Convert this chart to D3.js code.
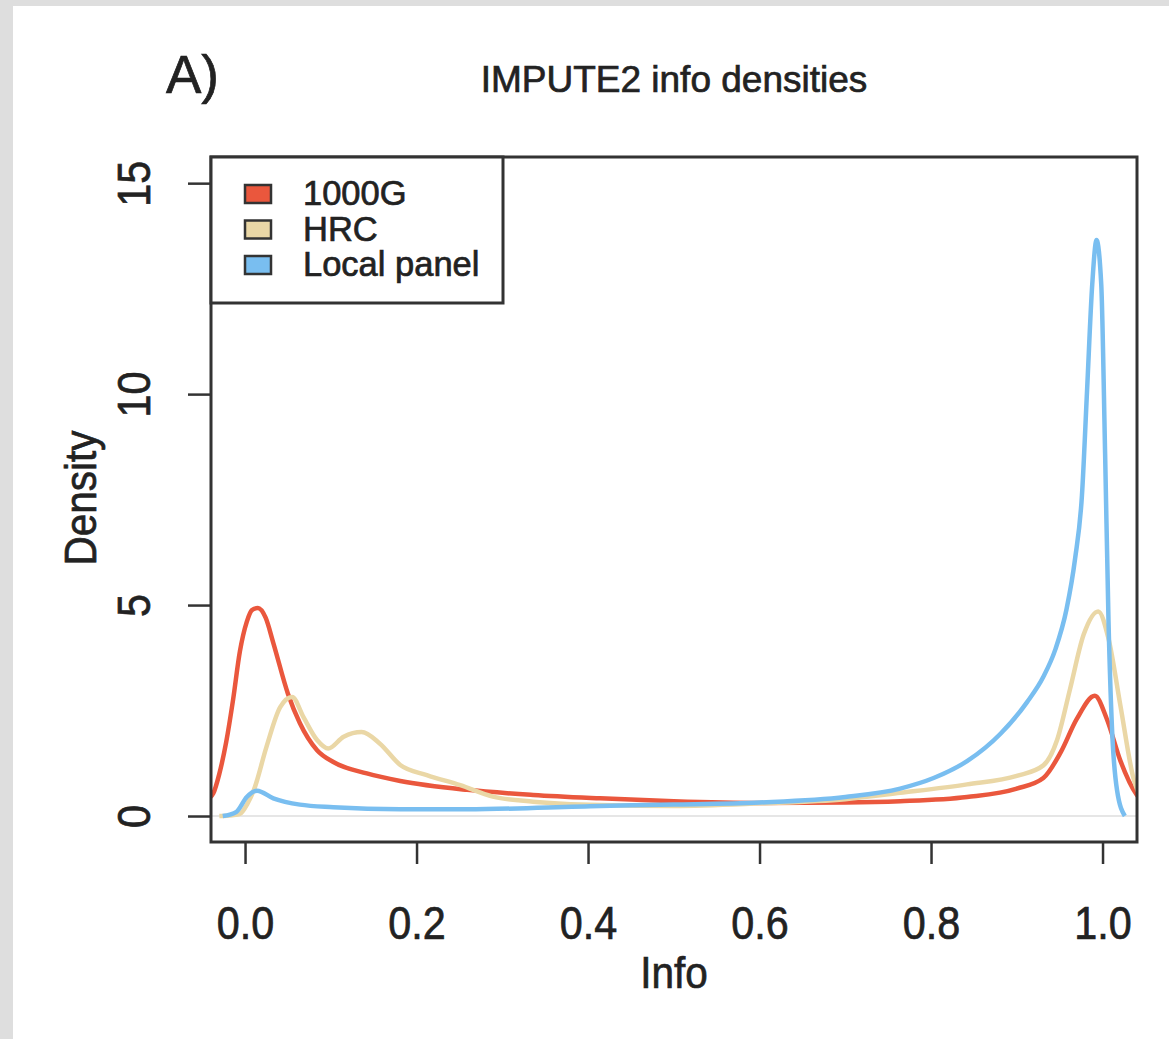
<!DOCTYPE html>
<html>
<head>
<meta charset="utf-8">
<script src="https://cdn.jsdelivr.net/npm/d3@7"></script>
<style>
  body { margin: 0; background: #dedede; }
  svg { display: block; font-family: "Liberation Sans", Arial, sans-serif; }
  svg text { stroke: #222; stroke-width: 0.7px; }
</style>
</head>
<body>
<svg id="chart" width="1169" height="1039"></svg>
<script>
// values (info score, density)
const seriesNames = ['1000G', 'HRC', 'Local panel'];
const seriesColors = ['#ea573d', '#ead7a6', '#79bef0'];

const info1000G = [-0.045, -0.037, -0.030, -0.022, -0.014, -0.006, 0.002, 0.008, 0.015, 0.024, 0.033, 0.050, 0.064, 0.084, 0.103, 0.142, 0.181, 0.259, 0.336, 0.414, 0.5, 0.6, 0.7, 0.764, 0.842, 0.900, 0.931, 0.951, 0.970, 0.991, 1.005, 1.021, 1.040, 1.05];
const dens1000G = [0.38, 0.54, 1.0, 1.75, 2.75, 3.9, 4.6, 4.88, 4.93, 4.7, 4.1, 2.9, 2.2, 1.56, 1.28, 1.01, 0.83, 0.62, 0.50, 0.42, 0.35, 0.31, 0.32, 0.35, 0.45, 0.65, 0.9, 1.5, 2.3, 2.85, 2.3, 1.3, 0.5, 0.3];

const infoHRC = [-0.03, -0.015, -0.006, 0.003, 0.010, 0.025, 0.041, 0.055, 0.068, 0.084, 0.097, 0.115, 0.136, 0.157, 0.181, 0.212, 0.251, 0.289, 0.336, 0.414, 0.5, 0.6, 0.7, 0.764, 0.842, 0.900, 0.931, 0.947, 0.962, 0.978, 0.995, 1.007, 1.021, 1.036, 1.045];
const densHRC = [0, 0.02, 0.05, 0.3, 0.6, 1.64, 2.58, 2.82, 2.35, 1.8, 1.6, 1.88, 1.99, 1.72, 1.21, 0.97, 0.73, 0.46, 0.34, 0.26, 0.24, 0.3, 0.4, 0.55, 0.75, 0.95, 1.2, 1.8, 3.0, 4.3, 4.85, 4.2, 2.6, 0.9, 0.4];

const infoLocal = [-0.026, -0.01, 0.002, 0.014, 0.033, 0.064, 0.103, 0.181, 0.259, 0.414, 0.5, 0.6, 0.7, 0.764, 0.803, 0.842, 0.881, 0.912, 0.931, 0.945, 0.958, 0.968, 0.976, 0.982, 0.988, 0.993, 0.9985, 1.003, 1.007, 1.011, 1.017, 1.026];
const densLocal = [0, 0.1, 0.45, 0.6, 0.42, 0.27, 0.21, 0.16, 0.16, 0.24, 0.27, 0.32, 0.45, 0.65, 0.9, 1.3, 1.95, 2.7, 3.3, 3.95, 4.9, 6.1, 7.6, 10.1, 12.6, 13.65, 12.6, 8.6, 4.6, 2.1, 0.6, 0];

const xTicks = [0, 0.2, 0.4, 0.6, 0.8, 1.0];
const yTicks = [0, 5, 10, 15];

const series = [
    { name: seriesNames[0], color: seriesColors[0], xs: info1000G, ys: dens1000G },
    { name: seriesNames[1], color: seriesColors[1], xs: infoHRC, ys: densHRC },
    { name: seriesNames[2], color: seriesColors[2], xs: infoLocal, ys: densLocal }
];

const svg = d3.select('#chart');
const plotLeft = 211, plotRight = 1137, plotTop = 157, plotBottom = 842;

// page background (gray strip on the left and top like the screenshot)
svg.append('rect').attr('x', 0).attr('y', 0).attr('width', 1169).attr('height', 1039).attr('fill', '#dedede');
svg.append('rect').attr('x', 13).attr('y', 6).attr('width', 1169 - 13).attr('height', 1039 - 6).attr('fill', '#ffffff');

const x = d3.scaleLinear().domain([-0.0397, 1.0402]).range([plotLeft, plotRight]);
const y = d3.scaleLinear().domain([-0.616, 15.62]).range([plotBottom, plotTop]);

svg.append('clipPath').attr('id', 'plot-clip')
    .append('rect').attr('x', plotLeft).attr('y', plotTop)
    .attr('width', plotRight - plotLeft).attr('height', plotBottom - plotTop);

const plot = svg.append('g').attr('clip-path', 'url(#plot-clip)');

// zero reference line
plot.append('line')
    .attr('x1', plotLeft).attr('x2', plotRight)
    .attr('y1', y(0)).attr('y2', y(0))
    .attr('stroke', '#e6e6e6').attr('stroke-width', 2);

const line = d3.line()
    .x(d => x(d[0]))
    .y(d => y(d[1]))
    .curve(d3.curveMonotoneX);

series.forEach(s => {
    const pts = s.xs.map((v, i) => [v, s.ys[i]]);
    plot.append('path')
        .datum(pts)
        .attr('d', line)
        .attr('fill', 'none')
        .attr('stroke', s.color)
        .attr('stroke-width', 4.5)
        .attr('stroke-linejoin', 'round');
});

// axes
const xAxis = svg.append('g')
    .attr('transform', 'translate(0,' + plotBottom + ')')
    .call(d3.axisBottom(x).tickValues(xTicks).tickFormat(d3.format('.1f')).tickSize(22).tickSizeOuter(0));
xAxis.select('.domain').remove();
xAxis.selectAll('line').attr('stroke', '#333').attr('stroke-width', 2.5);
xAxis.selectAll('text')
    .attr('y', 97).attr('dy', null)
    .attr('font-size', 47).attr('fill', '#222')
    .attr('transform', 'scale(0.88,1)')
    .attr('font-family', '"Liberation Sans", Arial, sans-serif');

const yAxis = svg.append('g')
    .attr('transform', 'translate(' + plotLeft + ',0)')
    .call(d3.axisLeft(y).tickValues(yTicks).tickSize(23).tickSizeOuter(0));
yAxis.select('.domain').remove();
yAxis.selectAll('line').attr('stroke', '#333').attr('stroke-width', 2.5);
yAxis.selectAll('text')
    .attr('x', null).attr('dy', null)
    .attr('text-anchor', 'middle')
    .attr('font-size', 47).attr('fill', '#222')
    .attr('font-family', '"Liberation Sans", Arial, sans-serif')
    .attr('transform', 'translate(-61,0) rotate(-90) scale(0.88,1)');

// frame
svg.append('rect')
    .attr('x', plotLeft).attr('y', plotTop)
    .attr('width', plotRight - plotLeft).attr('height', plotBottom - plotTop)
    .attr('fill', 'none').attr('stroke', '#333').attr('stroke-width', 3);

// axis titles
svg.append('text')
    .attr('transform', 'translate(' + (plotLeft + plotRight) / 2 + ',988) scale(0.9,1)')
    .attr('text-anchor', 'middle')
    .attr('font-size', 45).attr('fill', '#222')
    .text('Info');

svg.append('text')
    .attr('transform', 'translate(96,498) rotate(-90) scale(0.9,1)')
    .attr('text-anchor', 'middle')
    .attr('font-size', 45).attr('fill', '#222')
    .text('Density');

// title and panel letter
svg.append('text')
    .attr('x', (plotLeft + plotRight) / 2).attr('y', 92)
    .attr('text-anchor', 'middle')
    .attr('font-size', 37).attr('fill', '#222')
    .text('IMPUTE2 info densities');

svg.append('text')
    .attr('x', 166).attr('y', 93)
    .attr('font-size', 53).attr('fill', '#222')
    .text('A)');

// legend
const legend = svg.append('g');
legend.append('rect')
    .attr('x', plotLeft).attr('y', plotTop)
    .attr('width', 503 - plotLeft).attr('height', 303 - plotTop)
    .attr('fill', '#fff').attr('stroke', '#333').attr('stroke-width', 3);

const legendY = d3.scalePoint().domain(seriesNames).range([205, 276]);
seriesNames.forEach((name, i) => {
    legend.append('rect')
        .attr('x', 245).attr('y', legendY(name) - 20)
        .attr('width', 26).attr('height', 18)
        .attr('fill', seriesColors[i]).attr('stroke', '#333').attr('stroke-width', 2.5);
    legend.append('text')
        .attr('x', 303).attr('y', legendY(name))
        .attr('font-size', 34.5).attr('fill', '#222')
        .text(name);
});
</script>
</body>
</html>
